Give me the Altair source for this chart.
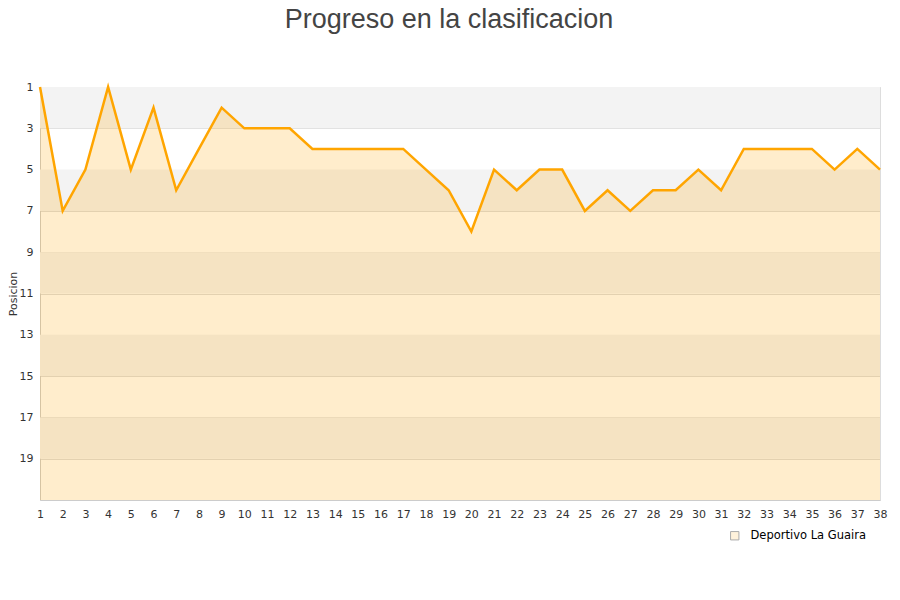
import altair as alt
import pandas as pd

jornadas = list(range(1, 39))
posiciones = [1, 7, 5, 1, 5, 2, 6, 4, 2, 3, 3, 3, 4, 4, 4, 4, 4, 5, 6, 8,
              5, 6, 5, 5, 7, 6, 7, 6, 6, 5, 6, 4, 4, 4, 4, 5, 4, 5]
band_start = [1, 5, 9, 13, 17]
band_end = [3, 7, 11, 15, 19]
y_ticks = [1, 3, 5, 7, 9, 11, 13, 15, 17, 19]
equipo = "Deportivo La Guaira"

df = pd.DataFrame({"jornada": jornadas, "posicion": posiciones})
bands = pd.DataFrame({"y1": band_start, "y2": band_end})

FONT = "DejaVu Sans"
xscale = alt.Scale(domain=[1, 38], nice=False, zero=False)
yscale = alt.Scale(domain=[1, 21], reverse=True, nice=False, zero=False)

xaxis = alt.Axis(values=jornadas, title=None, grid=False, ticks=False,
                 labelFont=FONT, labelFontSize=11, labelColor="#333",
                 labelPadding=8, domainColor="#ccc", format="d",
                 labelOverlap=False, labelFlush=False)
yaxis = alt.Axis(values=y_ticks, title="Posicion", grid=True, gridColor="#dddddd",
                 ticks=False, labelFont=FONT, labelFontSize=11, labelColor="#333",
                 labelPadding=7, domainColor="#ccc", titleFont=FONT,
                 titleFontSize=11, titleFontWeight="normal", titleColor="#333",
                 titlePadding=1, format="d")

band_layer = alt.Chart(bands).mark_rect(color="#f3f3f3").encode(
    y=alt.Y("y1:Q", scale=yscale, axis=yaxis),
    y2="y2:Q",
    x=alt.value(0),
    x2=alt.value(840),
)

area = alt.Chart(df).mark_area(color="#ffa500", opacity=0.2).encode(
    x=alt.X("jornada:Q", scale=xscale, axis=xaxis),
    y=alt.Y("posicion:Q", scale=yscale, axis=yaxis),
    y2=alt.datum(21),
)

line = alt.Chart(df).mark_line(color="#ffa500", strokeWidth=2.5).encode(
    x=alt.X("jornada:Q", scale=xscale, axis=xaxis),
    y=alt.Y("posicion:Q", scale=yscale, axis=yaxis),
)

legend_layer = alt.Chart(pd.DataFrame({"equipo": pd.Series([], dtype=str)})).mark_square(
    filled=True, stroke="#888", strokeWidth=1
).encode(
    fill=alt.Fill("equipo:N", scale=alt.Scale(domain=[equipo], range=["#ffedcc"]), title=None,
                  legend=alt.Legend(orient="none", legendX=689, legendY=443,
                                    symbolType="square", symbolSize=70,
                                    symbolStrokeColor="#888", symbolStrokeWidth=1,
                                    labelOffset=10,
                                    labelFont=FONT, labelFontSize=11.5, labelColor="#000")),
)

chart = alt.layer(band_layer, area, line, legend_layer).properties(
    width=840,
    height=413,
    autosize=alt.AutoSizeParams(type="none"),
    padding={"left": 32, "top": 79, "right": 10, "bottom": 80},
    title=alt.TitleParams("Progreso en la clasificacion", font="Liberation Sans",
                          fontSize=27, fontWeight="normal", color="#444",
                          anchor="middle", offset=47, dx=-11),
).configure_view(stroke="#dddddd")

chart.save("out.html", embed_options={"renderer": "svg", "actions": False})
